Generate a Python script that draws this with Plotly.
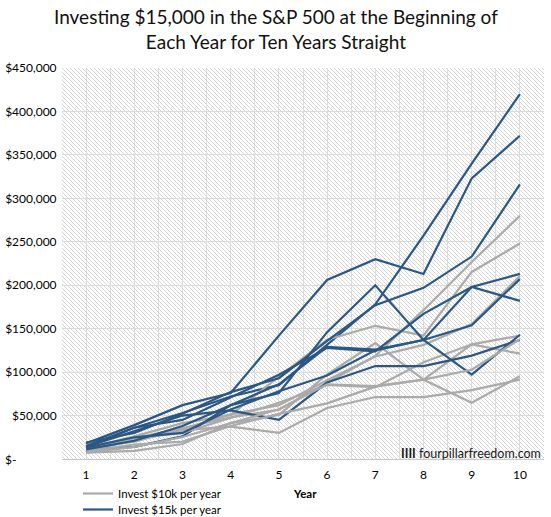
import base64
import plotly.graph_objects as go

years = [1, 2, 3, 4, 5, 6, 7, 8, 9, 10]
y_ticks = [0, 50000, 100000, 150000, 200000, 250000, 300000, 350000, 400000, 450000]
y_tick_labels = ["", "$50,000", "$100,000", "$150,000", "$200,000",
                 "$250,000", "$300,000", "$350,000", "$400,000", "$450,000"]
zero_label = "$-"

# Invest $10k per year (gray)
g_a = [9300, 24000, 35300, 48000, 56700, 87300, 118700, 171300, 226700, 280000]
g_b = [12000, 26000, 41300, 50700, 94700, 137300, 153300, 142000, 215300, 248000]
g_c = [7300, 9300, 17300, 41300, 50700, 97300, 133300, 91300, 132000, 142000]
g_d = [12700, 20000, 34700, 51300, 62000, 90700, 118000, 131300, 155300, 210700]
g_e = [10000, 24000, 30000, 47300, 64700, 85300, 82700, 111300, 132000, 121300]
g_f = [9300, 21300, 33300, 37300, 30000, 58700, 71300, 71300, 79300, 91300]
g_g = [8700, 16700, 20000, 38000, 52000, 64000, 83300, 91300, 64700, 95300]
g_h = [7300, 14000, 25300, 41300, 57300, 86000, 84000, 91300, 102700, 138000]

# Invest $15k per year (blue)
b_a = [14000, 36000, 53000, 72000, 85000, 131000, 178000, 257000, 340000, 420000]
b_b = [18000, 39000, 62000, 76000, 142000, 206000, 230000, 213000, 323000, 372000]
b_c = [11000, 14000, 26000, 62000, 76000, 146000, 200000, 137000, 198000, 213000]
b_d = [19000, 30000, 52000, 77000, 93000, 136000, 177000, 197000, 233000, 316000]
b_e = [15000, 36000, 45000, 71000, 97000, 128000, 124000, 167000, 198000, 182000]
b_f = [14000, 32000, 50000, 56000, 45000, 88000, 107000, 107000, 119000, 137000]
b_g = [13000, 25000, 30000, 57000, 78000, 96000, 125000, 137000, 97000, 143000]
b_h = [11000, 21000, 38000, 62000, 86000, 129000, 126000, 137000, 154000, 207000]

gray_series = [g_a, g_b, g_c, g_d, g_e, g_f, g_g, g_h]
blue_series = [b_a, b_b, b_c, b_d, b_e, b_f, b_g, b_h]

GRAY = "#AAAAAA"
BLUE = "#2A5783"
FONT = "Lato, 'Open Sans', sans-serif"

FW, FH = 551, 517
PL, PR, PT, PB = 62, 544, 68, 459  # plot area in pixels


def px(x):
    return x / FW


def py(y):
    return 1 - y / FH


fig = go.Figure()
for i, (g, b) in enumerate(zip(gray_series, blue_series)):
    fig.add_trace(go.Scatter(x=years, y=g, mode="lines", line=dict(color=GRAY, width=2.2),
                             name="Invest $10k per year", legend="legend", showlegend=(i == 0),
                             hoverinfo="skip"))
    fig.add_trace(go.Scatter(x=years, y=b, mode="lines", line=dict(color=BLUE, width=2.2),
                             name="Invest $15k per year", legend="legend2", showlegend=(i == 0),
                             hoverinfo="skip"))

# hatched plot-area background
W, H = PR - PL, PB - PT
svg = (f'<svg xmlns="http://www.w3.org/2000/svg" width="{W}" height="{H}">'
       '<defs><pattern id="p" width="4" height="4" patternUnits="userSpaceOnUse">'
       '<path d="M-1,3 L1,5 M0,0 L4,4 M3,-1 L5,1" stroke="#d8d8d8" stroke-width="1"/>'
       '</pattern></defs>'
       f'<rect width="{W}" height="{H}" fill="white"/>'
       f'<rect width="{W}" height="{H}" fill="url(#p)"/></svg>')
src = "data:image/svg+xml;base64," + base64.b64encode(svg.encode()).decode()

legend_common = dict(xanchor="left", yanchor="top", orientation="v",
                     bgcolor="rgba(0,0,0,0)", font=dict(size=11.5, color="#000"),
                     itemwidth=30, borderwidth=0)

fig.update_layout(
    width=FW, height=FH,
    margin=dict(l=0, r=0, t=0, b=0, autoexpand=False),
    paper_bgcolor="white",
    plot_bgcolor="rgba(0,0,0,0)",
    font=dict(family=FONT, color="#000000", size=11),
    images=[dict(source=src, xref="paper", yref="paper", x=px(PL), y=py(PT),
                 sizex=W / FW, sizey=H / FH, sizing="stretch", layer="below",
                 xanchor="left", yanchor="top")],
    showlegend=True,
    legend=dict(x=px(78), y=py(479), **legend_common),
    legend2=dict(x=px(78), y=py(495), **legend_common),
    xaxis=dict(domain=[px(PL), px(PR)], range=[0.5, 10.5], tickmode="array", tickvals=years,
               ticktext=[str(v) for v in years], showgrid=True, gridcolor="#dcdcdc",
               gridwidth=1, zeroline=False, showline=True, linecolor="#c8c8c8",
               ticks="outside", ticklen=5, tickcolor="rgba(0,0,0,0)",
               tickfont=dict(size=12), automargin=False,
               minor=dict(tickmode="array", tickvals=[v + 0.5 for v in years[:-1]],
                          showgrid=True, gridcolor="#dcdcdc", gridwidth=1)),
    yaxis=dict(domain=[py(PB), py(PT)], range=[0, 450000], tickmode="array", tickvals=y_ticks,
               ticktext=y_tick_labels, showgrid=True, gridcolor="#dcdcdc", gridwidth=1,
               zeroline=False, showline=False, ticks="outside", ticklen=2,
               tickcolor="rgba(0,0,0,0)", tickfont=dict(size=12), automargin=False),
    annotations=[
        dict(text="Investing $15,000 in the S&P 500 at the Beginning of<br>Each Year for Ten Years Straight",
             xref="paper", yref="paper", x=0.5, y=py(29), xanchor="center", yanchor="middle",
             showarrow=False, font=dict(family=FONT, size=19, color="#111111")),
        dict(text=zero_label, xref="paper", yref="paper", x=px(3), y=py(PB),
             xanchor="left", yanchor="middle", showarrow=False, font=dict(size=12)),
        dict(text="<b>Year</b>", xref="paper", yref="paper", x=px(305), y=py(493),
             xanchor="center", yanchor="middle", showarrow=False, font=dict(size=11.5)),
        dict(text="<b>IIII</b> fourpillarfreedom.com", xref="paper", yref="paper", x=px(543),
             y=py(453), xanchor="right", yanchor="middle", showarrow=False,
             font=dict(size=12.5, color="#1a1a1a")),
    ],
)

fig.write_html("out.html", config={"displayModeBar": False},
               post_script="document.body.style.margin='0px';")
